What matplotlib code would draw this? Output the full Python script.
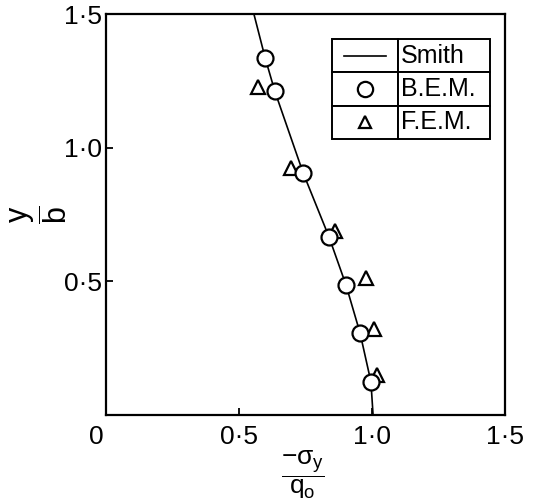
import numpy as np
import matplotlib.pyplot as plt
from matplotlib.transforms import ScaledTranslation

plt.rcParams['font.family'] = ['Liberation Sans', 'DejaVu Sans']
plt.rcParams['mathtext.fontset'] = 'custom'
plt.rcParams['mathtext.rm'] = 'Liberation Sans'
plt.rcParams['mathtext.it'] = 'Liberation Sans'
plt.rcParams['mathtext.bf'] = 'Liberation Sans:bold'

# Contrainte normale le long de y/b : solution de Smith, B.E.M. et F.E.M.
smith_x = [0.556, 0.598, 0.635, 0.741, 0.838, 0.902, 0.955, 0.996, 1.004]
smith_y = [1.50, 1.337, 1.21, 0.906, 0.667, 0.487, 0.307, 0.124, 0.0]

bem_x = [0.598, 0.635, 0.741, 0.840, 0.902, 0.955, 0.996]
bem_y = [1.336, 1.213, 0.906, 0.665, 0.487, 0.307, 0.124]

fem_x = [0.570, 0.697, 0.860, 0.977, 1.006, 1.020]
fem_y = [1.227, 0.923, 0.690, 0.511, 0.320, 0.150]

ticks = [0, 0.5, 1.0, 1.5]
tick_labels = ['0', '0·5', '1·0', '1·5']

fig = plt.figure(figsize=(5.34, 5.04), dpi=100)
ax = fig.add_axes([0.1985, 0.1766, 0.7472, 0.7956])

ax.plot(smith_x, smith_y, color='black', lw=1.2, zorder=2)
ax.plot(fem_x, fem_y, linestyle='none', marker='^', ms=10, mfc='white',
        mec='black', mew=1.6, zorder=3)
ax.plot(bem_x, bem_y, linestyle='none', marker='o', ms=11.5, mfc='white',
        mec='black', mew=1.6, zorder=4)

ax.set_xlim(0, 1.5)
ax.set_ylim(0, 1.5)
ax.set_xticks(ticks)
ax.set_xticklabels(tick_labels, fontsize=19)
ax.set_yticks(ticks[1:])
ax.set_yticklabels(tick_labels[1:], fontsize=19)
ax.tick_params(direction='in', length=5, width=1.3, pad=7)
ax.tick_params(axis='y', pad=3)
# le « 0 » sert aux deux axes, décalé vers le coin
lab0 = ax.get_xticklabels()[0]
lab0.set_transform(lab0.get_transform() + ScaledTranslation(-7 / 72, 0, fig.dpi_scale_trans))
for s in ax.spines.values():
    s.set_linewidth(1.6)

# tableau de légende
tab = ax.table(cellText=[['', 'Smith'], ['', 'B.E.M.'], ['', 'F.E.M.']],
               bbox=[0.566, 0.688, 0.396, 0.25], colWidths=[0.418, 0.582],
               cellLoc='left')
tab.auto_set_font_size(False)
for (r, c), cell in tab.get_celld().items():
    cell.set_linewidth(1.4)
    cell.set_fontsize(18)
    cell.PAD = 0.03
tab.set_zorder(5)
cx = 0.566 + 0.396 * 0.418 / 2
rows = [0.938 - 0.25 / 6, 0.938 - 0.25 / 2, 0.938 - 5 * 0.25 / 6]
ax.plot([cx - 0.053, cx + 0.053], [rows[0], rows[0]], color='black', lw=1.2,
        transform=ax.transAxes, zorder=6)
ax.plot([cx], [rows[1]], marker='o', ms=11, mfc='white', mec='black', mew=1.6,
        transform=ax.transAxes, zorder=6)
ax.plot([cx], [rows[2]], marker='^', ms=9, mfc='white', mec='black', mew=1.6,
        transform=ax.transAxes, zorder=6)

fig.text(0.073, 0.575, r'$\dfrac{\mathrm{y}}{\mathrm{b}}$', rotation=90,
         fontsize=22, ha='center', va='center')
fig.text(0.567, 0.058, r'$\dfrac{-\sigma_{\mathrm{y}}}{\mathrm{q}_{\mathrm{o}}}$',
         fontsize=19, ha='center', va='center')

fig.savefig('out.png', dpi=100)
